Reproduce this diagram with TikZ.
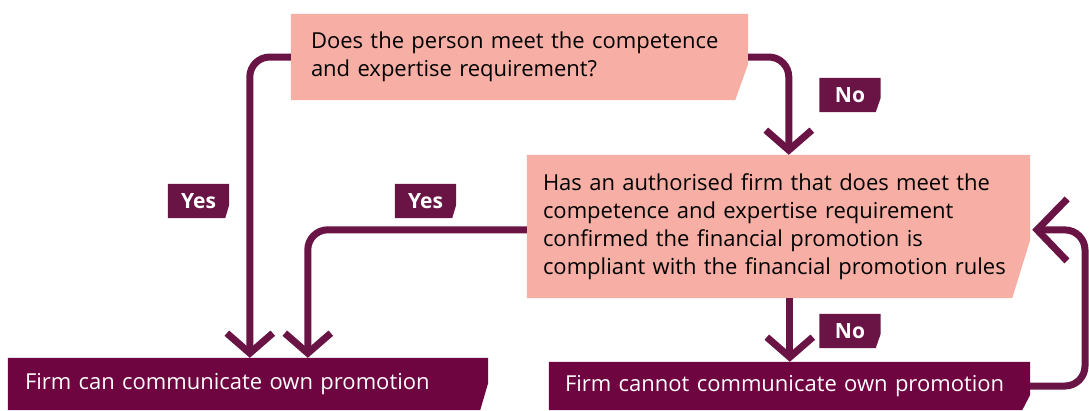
\documentclass[tikz,border=0pt]{standalone}
\usepackage{fontspec}
\setmainfont{Open Sans}
\usetikzlibrary{calc,arrows.meta,backgrounds}
\definecolor{plum}{RGB}{110,4,64}
\definecolor{plumline}{RGB}{106,20,70}
\definecolor{salmon}{RGB}{247,175,165}
\newcommand\chamferfill[4]{\fill[#1] (#2.north west) -- (#2.north east) -- ($(#2.north east)+(0,#3)$) -- ($(#2.south east)+(-#4,0)$) -- (#2.south west) -- cycle;}
\tikzset{
  boxtext/.style={inner ysep=0pt, align=left, font=\fontsize{22}{28}\selectfont},
  endtext/.style={boxtext, text=white},
  tag/.style={inner sep=0pt, minimum width=61pt, minimum height=34pt, text=white, font=\fontsize{21}{24}\selectfont\bfseries},
  conn/.style={draw=plumline, line width=7pt, rounded corners=20pt, -{Straight Barb[length=20pt,width=46pt]}},
  bigtip/.style={-{Straight Barb[length=30pt,width=62pt]}}
}
\begin{document}
\begin{tikzpicture}[x=1pt,y=-1pt]
\useasboundingbox (0,0) rectangle (1089,410);
% boxes
\node[boxtext, minimum height=86pt, text width=417pt, inner xsep=20pt] (q1) at (519.5,57)
  {Does the person meet the competence\\and expertise requirement?};
\node[boxtext, minimum height=143pt, text width=471pt, inner xsep=16pt] (q2) at (778.5,226.5)
  {Has an authorised firm that does meet the\\competence and expertise requirement\\confirmed the financial promotion is\\compliant with the financial promotion rules};
\node[endtext, minimum height=52pt, text width=446pt, inner xsep=17pt] (f1) at (248,384)
  {Firm can communicate own promotion};
\node[endtext, minimum height=48pt, text width=449pt, inner xsep=16pt] (f2) at (789.5,386)
  {Firm cannot communicate own promotion};
% labels
\node[tag] (yes1) at (198.5,201) {Yes};
\node[tag] (yes2) at (425.5,201) {Yes};
\node[tag] (no1) at (850,95) {No};
\node[tag] (no2) at (850,331) {No};
\begin{scope}[on background layer]
  \chamferfill{salmon}{q1}{50}{13}
  \chamferfill{salmon}{q2}{85}{18}
  \chamferfill{plum}{f1}{25}{8}
  \chamferfill{plum}{f2}{33}{8}
  \chamferfill{plumline}{yes1}{21}{4}
  \chamferfill{plumline}{yes2}{21}{4}
  \chamferfill{plumline}{no1}{20}{5}
  \chamferfill{plumline}{no2}{20}{5}
\end{scope}
% connectors
\coordinate (loop) at (1085,230);
\draw[conn] (q1.west) -| ($(f1.north west)+(242,0)$);
\draw[conn] (q1.east) -| ($(q2.north west)+(262,0)$);
\draw[conn] ($(q2.north west)+(0,75)$) -| ($(f1.north west)+(300,0)$);
\draw[conn] ($(q2.south west)+(263,0)$) -- ($(f2.north west)+(241,0)$);
\draw[conn, bigtip] (f2.east) -| (loop) -- ($(q2.north east)+(2,75)$);
\end{tikzpicture}
\end{document}
